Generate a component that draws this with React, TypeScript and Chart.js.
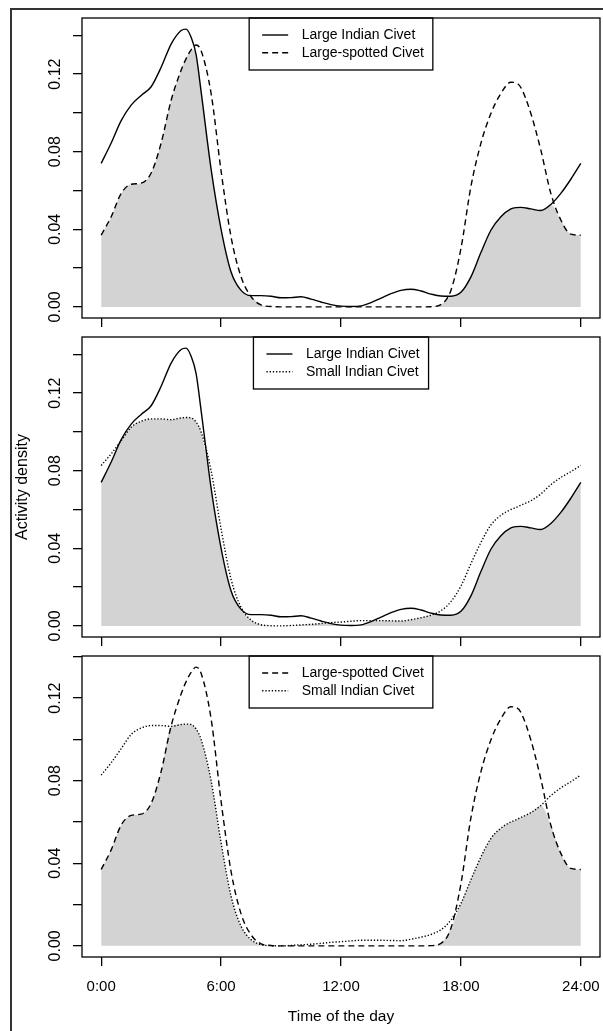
import React, { useEffect, useRef } from "react";
import { Chart, registerables } from "chart.js";

Chart.register(...registerables);

// ---- data (hour of day, activity density) ----
const HOURS = [0, 0.5, 1, 1.5, 2, 2.5, 3, 3.5, 4, 4.25, 4.5, 4.75, 5, 5.5, 6, 6.5, 7, 7.5, 8, 8.5, 9, 9.5, 10, 10.5, 11, 11.5, 12, 12.5, 13, 13.5, 14, 14.5, 15, 15.5, 16, 16.5, 17, 17.5, 18, 18.5, 19, 19.5, 20, 20.5, 20.75, 21, 21.5, 22, 22.5, 23, 23.5, 24];

const LARGE_INDIAN_CIVET = [0.074, 0.0845, 0.096, 0.104, 0.109, 0.1135, 0.1235, 0.1355, 0.1425, 0.1432, 0.139, 0.13, 0.111, 0.071, 0.04, 0.018, 0.0085, 0.0058, 0.0058, 0.0055, 0.0047, 0.0048, 0.0052, 0.004, 0.0025, 0.0012, 0.0004, 0.0002, 0.0005, 0.0022, 0.0045, 0.0068, 0.0085, 0.0091, 0.0082, 0.0066, 0.0056, 0.0055, 0.0075, 0.0155, 0.028, 0.0395, 0.0465, 0.0505, 0.0512, 0.0513, 0.0505, 0.0497, 0.0528, 0.0585, 0.0658, 0.074];

const LARGE_SPOTTED_CIVET = [0.037, 0.0465, 0.0585, 0.0632, 0.0638, 0.069, 0.0845, 0.1065, 0.122, 0.128, 0.1325, 0.135, 0.132, 0.11, 0.07, 0.036, 0.0155, 0.0053, 0.001, 0.0002, 0, 0, 0, 0, 0, 0, 0, 0, 0, 0, 0, 0, 0, 0, 0, 0.0001, 0.0012, 0.0085, 0.03, 0.062, 0.0843, 0.0997, 0.11, 0.1158, 0.1155, 0.1131, 0.0997, 0.0808, 0.0585, 0.0448, 0.0375, 0.037];

const SMALL_INDIAN_CIVET = [0.0827, 0.0887, 0.0955, 0.1024, 0.1055, 0.1067, 0.1067, 0.1063, 0.1072, 0.1074, 0.1072, 0.105, 0.1, 0.08, 0.05, 0.024, 0.0095, 0.003, 0.0006, 0.0001, 0, 0.0002, 0.0005, 0.0008, 0.0012, 0.0017, 0.002, 0.0024, 0.0027, 0.0027, 0.0027, 0.0026, 0.0025, 0.0032, 0.0042, 0.0055, 0.0078, 0.0125, 0.0205, 0.032, 0.043, 0.052, 0.057, 0.06, 0.061, 0.0622, 0.0645, 0.068, 0.0728, 0.0765, 0.0795, 0.0827];

const X_TICKS = [0, 6, 12, 18, 24];
const X_TICK_LABELS = ["0:00", "6:00", "12:00", "18:00", "24:00"];
const Y_LABELLED_TICKS = [0, 0.04, 0.08, 0.12];

const X_TITLE = "Time of the day";
const Y_TITLE = "Activity density";

const FONT = "'Liberation Sans', Arial, Helvetica, sans-serif";

const SERIES: Record<string, { label: string; values: number[]; dash: number[] }> = {
  lic: { label: "Large Indian Civet", values: LARGE_INDIAN_CIVET, dash: [] },
  lsc: { label: "Large-spotted Civet", values: LARGE_SPOTTED_CIVET, dash: [6, 4] },
  sic: { label: "Small Indian Civet", values: SMALL_INDIAN_CIVET, dash: [1.3, 1.9] },
};

const PANELS = [
  { a: "lic", b: "lsc", top: 10, height: 324, padTop: 8, axisH: 16, xLabels: false, yTitle: false },
  { a: "lic", b: "sic", top: 334, height: 321, padTop: 3, axisH: 18, xLabels: false, yTitle: true },
  { a: "lsc", b: "sic", top: 655, height: 376, padTop: 1, axisH: 74, xLabels: true, yTitle: false },
];

const framePlugin = {
  id: "frameBox",
  afterDraw(chart: any) {
    const { ctx, chartArea: ca } = chart;
    ctx.save();
    ctx.strokeStyle = "#000";
    ctx.lineWidth = 1.3;
    ctx.setLineDash([]);
    ctx.strokeRect(ca.left, ca.top, ca.right - ca.left, ca.bottom - ca.top);
    ctx.restore();
  },
};

const boxLegendPlugin = {
  id: "boxLegend",
  afterDraw(chart: any, _args: any, opts: any) {
    const idx: number[] = (opts && opts.datasets) || [];
    if (!idx.length) return;
    const { ctx, chartArea: ca } = chart;
    const items = idx.map((i) => chart.data.datasets[i]);
    ctx.save();
    ctx.font = `14px ${FONT}`;
    const textW = Math.max(...items.map((d: any) => ctx.measureText(d.label).width));
    const w = 52.5 + textW + 9;
    const h = 52;
    const left = (ca.left + ca.right) / 2 - w / 2;
    const top = ca.top;
    ctx.strokeStyle = "#000";
    ctx.lineWidth = 1.3;
    ctx.setLineDash([]);
    ctx.strokeRect(left, top, w, h);
    items.forEach((d: any, k: number) => {
      const y = top + 17 + k * 17.7;
      ctx.beginPath();
      ctx.setLineDash(d.borderDash || []);
      ctx.lineWidth = d.borderWidth;
      ctx.strokeStyle = "#000";
      ctx.moveTo(left + 13, y);
      ctx.lineTo(left + 39, y);
      ctx.stroke();
      ctx.setLineDash([]);
      ctx.fillStyle = "#000";
      ctx.textBaseline = "middle";
      ctx.textAlign = "left";
      ctx.fillText(d.label, left + 52.5, y);
    });
    ctx.restore();
  },
};

function buildConfig(p: any): any {
  const A = SERIES[p.a];
  const B = SERIES[p.b];
  const toPts = (vals: number[]) => HOURS.map((h, i) => ({ x: h, y: vals[i] }));
  const overlap = HOURS.map((h, i) => ({ x: h, y: Math.min(A.values[i], B.values[i]) }));
  const peak = Math.max(...A.values, ...B.values);
  const yPad = peak * 0.04;
  const xPad = 24 * 0.04;
  const lineDs = (s: any, order: number) => ({
    label: s.label,
    data: toPts(s.values),
    borderColor: "#000",
    borderWidth: 1.4,
    borderDash: s.dash,
    fill: false,
    pointRadius: 0,
    cubicInterpolationMode: "monotone",
    order,
  });
  const tickGrid = {
    display: true,
    drawOnChartArea: false,
    drawTicks: true,
    tickLength: 9,
    color: "#000",
    lineWidth: 1.3,
  };
  return {
    type: "line",
    data: {
      datasets: [
        lineDs(A, 0),
        lineDs(B, 1),
        {
          label: "overlap",
          data: overlap,
          borderColor: "rgba(0,0,0,0)",
          borderWidth: 0,
          backgroundColor: "#d3d3d3",
          fill: "origin",
          pointRadius: 0,
          cubicInterpolationMode: "monotone",
          order: 2,
        },
      ],
    },
    plugins: [framePlugin, boxLegendPlugin],
    options: {
      responsive: false,
      maintainAspectRatio: false,
      animation: false,
      devicePixelRatio: 1,
      events: [],
      layout: { padding: { left: 0, right: 3, top: p.padTop, bottom: 0 } },
      plugins: {
        legend: { display: false },
        tooltip: { enabled: false },
        boxLegend: { datasets: [0, 1] },
      },
      scales: {
        x: {
          type: "linear",
          min: -xPad,
          max: 24 + xPad,
          border: { display: false },
          grid: tickGrid,
          ticks: {
            stepSize: 6,
            includeBounds: false,
            autoSkip: false,
            minRotation: 0,
            maxRotation: 0,
            padding: 12,
            color: "#000",
            font: { family: FONT, size: 15 },
            callback: (v: number) => {
              if (!p.xLabels) return "";
              const i = X_TICKS.findIndex((t) => Math.abs(t - v) < 1e-6);
              return i >= 0 ? X_TICK_LABELS[i] : "";
            },
          },
          title: {
            display: p.xLabels,
            text: X_TITLE,
            color: "#000",
            font: { family: FONT, size: 15.5 },
            padding: { top: 0, bottom: 5 },
          },
          afterFit: (s: any) => {
            s.height = p.axisH;
            s.paddingLeft = 0;
            s.paddingRight = 0;
          },
        },
        y: {
          type: "linear",
          min: -yPad,
          max: peak + yPad,
          border: { display: false },
          grid: tickGrid,
          ticks: {
            stepSize: 0.02,
            includeBounds: false,
            autoSkip: false,
            minRotation: 90,
            maxRotation: 90,
            crossAlign: "center",
            padding: 2,
            color: "#000",
            font: { family: FONT, size: 16 },
            callback: (v: number) =>
              Y_LABELLED_TICKS.some((t) => Math.abs(t - v) < 1e-6) ? v.toFixed(2) : "",
          },
          title: {
            display: p.yTitle,
            text: Y_TITLE,
            color: "#000",
            font: { family: FONT, size: 16 },
            padding: { top: 13, bottom: 0 },
          },
          afterFit: (s: any) => {
            s.width = 82;
            s.paddingTop = 0;
            s.paddingBottom = 0;
          },
        },
      },
    },
  };
}

export default function App() {
  const r1 = useRef<HTMLCanvasElement | null>(null);
  const r2 = useRef<HTMLCanvasElement | null>(null);
  const r3 = useRef<HTMLCanvasElement | null>(null);
  const refs = [r1, r2, r3];

  useEffect(() => {
    const charts = PANELS.map((p, i) => new Chart(refs[i].current as HTMLCanvasElement, buildConfig(p)));
    return () => charts.forEach((c) => c.destroy());
  }, []);

  return (
    <div>
      <div
        style={{
          position: "absolute",
          left: 10,
          top: 8,
          width: 593,
          height: 1023,
          borderLeft: "2px solid #333",
          borderTop: "2px solid #333",
          boxSizing: "border-box",
        }}
      />
      {PANELS.map((p, i) => (
        <canvas
          key={i}
          ref={refs[i]}
          width={603}
          height={p.height}
          style={{ position: "absolute", left: 0, top: p.top, width: 603, height: p.height }}
        />
      ))}
    </div>
  );
}
